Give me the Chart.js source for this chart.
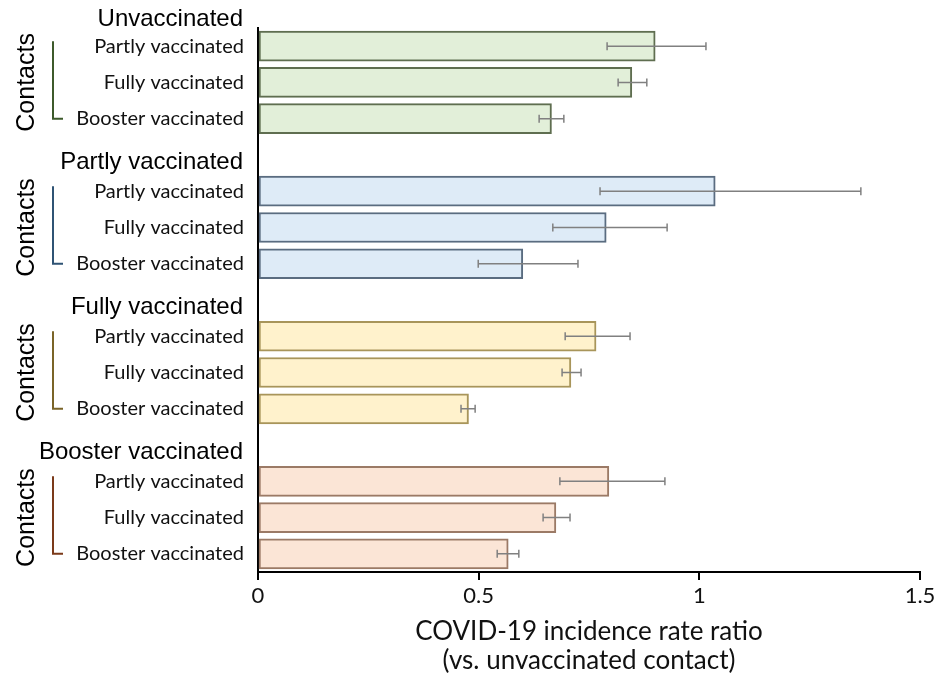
<!DOCTYPE html>
<html>
<head>
<meta charset="utf-8">
<script src="https://cdn.jsdelivr.net/npm/chart.js@4.4.1/dist/chart.umd.min.js"></script>
<style>
  html, body { margin: 0; padding: 0; background: #fff; }
  #wrap { width: 940px; height: 675px; }
</style>
</head>
<body>
<div id="wrap"><canvas id="chart"></canvas></div>
<script>
/* ── Data ─────────────────────────────────────────────────────── */
const groupNames = ["Unvaccinated", "Partly vaccinated", "Fully vaccinated", "Booster vaccinated"];
const contactNames = ["Partly vaccinated", "Fully vaccinated", "Booster vaccinated"];

// incidence rate ratio per index-case group, for partly / fully / booster contacts
const irrUnvaccinated = [0.90, 0.847, 0.665];
const irrPartly       = [1.036, 0.789, 0.600];
const irrFully        = [0.766, 0.709, 0.477];
const irrBooster      = [0.795, 0.675, 0.567];

const lowUnvaccinated = [0.791, 0.816, 0.637];
const lowPartly       = [0.775, 0.668, 0.499];
const lowFully        = [0.696, 0.689, 0.460];
const lowBooster      = [0.684, 0.646, 0.542];

const highUnvaccinated = [1.015, 0.881, 0.693];
const highPartly       = [1.366, 0.927, 0.725];
const highFully        = [0.843, 0.732, 0.492];
const highBooster      = [0.922, 0.707, 0.591];

const xTicks = [0, 0.5, 1, 1.5];

/* ── Palette ──────────────────────────────────────────────────── */
const FILLS   = ["#e2efd9", "#deebf7", "#fff2cc", "#fbe5d6"];
const BORDERS = ["#5f6e50", "#5a6c80", "#a8955a", "#9b7a66"];
const BRACKET = ["#3d5a2b", "#2f5374", "#7a6428", "#7b3a1a"];

/* ── Build rows (header rows for groups 2-4 are empty bars) ──── */
const irr  = [irrUnvaccinated, irrPartly, irrFully, irrBooster];
const low  = [lowUnvaccinated, lowPartly, lowFully, lowBooster];
const high = [highUnvaccinated, highPartly, highFully, highBooster];

const labels = [], values = [], lows = [], highs = [], rowGroup = [], firstRow = [];
groupNames.forEach((g, gi) => {
    if (gi > 0) {
        labels.push(""); values.push(null); lows.push(null); highs.push(null); rowGroup.push(gi);
    }
    firstRow.push(labels.length);
    contactNames.forEach((c, ci) => {
        labels.push(c);
        values.push(irr[gi][ci]);
        lows.push(low[gi][ci]);
        highs.push(high[gi][ci]);
        rowGroup.push(gi);
    });
});

/* ── Error bars ───────────────────────────────────────────────── */
const errorBars = {
    id: "errorBars",
    afterDatasetsDraw(chart) {
        const { ctx, scales: { x } } = chart;
        const meta = chart.getDatasetMeta(0);
        ctx.save();
        ctx.strokeStyle = "#808080";
        ctx.lineWidth = 1.5;
        meta.data.forEach((bar, i) => {
            if (lows[i] == null) return;
            const x1 = x.getPixelForValue(lows[i]);
            const x2 = x.getPixelForValue(highs[i]);
            const y = bar.y;
            ctx.beginPath();
            ctx.moveTo(x1, y); ctx.lineTo(x2, y);
            ctx.moveTo(x1, y - 4); ctx.lineTo(x1, y + 4);
            ctx.moveTo(x2, y - 4); ctx.lineTo(x2, y + 4);
            ctx.stroke();
        });
        ctx.restore();
    }
};

/* ── Group headers, brackets, "Contacts" ──────────────────────── */
const groupLabels = {
    id: "groupLabels",
    afterDraw(chart) {
        const { ctx, scales: { y } } = chart;
        const step = y.getPixelForValue(1) - y.getPixelForValue(0);
        ctx.save();
        groupNames.forEach((g, gi) => {
            const r = firstRow[gi];
            const yTop = y.getPixelForValue(r);
            const yMid = y.getPixelForValue(r + 1);
            const yBot = y.getPixelForValue(r + 2);

            // header
            ctx.fillStyle = "#000";
            ctx.font = "24px 'Liberation Sans', Arial, sans-serif";
            ctx.textAlign = "right";
            ctx.textBaseline = "middle";
            ctx.fillText(g, 243, yTop - step + (gi === 0 ? 10 : 7));

            // bracket
            ctx.strokeStyle = BRACKET[gi];
            ctx.lineWidth = 2;
            ctx.beginPath();
            ctx.moveTo(53, yTop - 5);
            ctx.lineTo(53, yBot);
            ctx.lineTo(63, yBot);
            ctx.stroke();

            // Contacts
            ctx.save();
            ctx.translate(27, yMid);
            ctx.rotate(-Math.PI / 2);
            ctx.textAlign = "center";
            ctx.font = "25px 'Liberation Sans', Arial, sans-serif";
            ctx.fillStyle = "#000";
            ctx.fillText("Contacts", 0, 0);
            ctx.restore();
        });
        ctx.restore();
    }
};

/* ── Chart ────────────────────────────────────────────────────── */
new Chart(document.getElementById("chart"), {
    type: "bar",
    data: {
        labels,
        datasets: [{
            data: values,
            backgroundColor: rowGroup.map(g => FILLS[g]),
            borderColor: rowGroup.map(g => BORDERS[g]),
            borderWidth: 2,
            borderSkipped: false,
            barThickness: 30,
        }]
    },
    options: {
        indexAxis: "y",
        responsive: true,
        maintainAspectRatio: false,
        animation: false,
        layout: { padding: { top: 28, right: 20, left: 0, bottom: 0 } },
        plugins: { legend: { display: false }, tooltip: { enabled: false } },
        scales: {
            x: {
                type: "linear",
                min: 0,
                max: 1.5,
                afterBuildTicks: s => { s.ticks = xTicks.map(v => ({ value: v })); },
                afterFit: s => { s.height = 103; },
                border: { color: "#000", width: 2 },
                grid: { drawOnChartArea: false, drawTicks: true, tickLength: 8, color: "#000", lineWidth: 2 },
                ticks: {
                    padding: 3,
                    color: "#111",
                    font: { family: "Lato, sans-serif", size: 22 },
                    callback: v => String(v),
                },
                title: {
                    display: true,
                    text: ["COVID-19 incidence rate ratio", "(vs. unvaccinated contact)"],
                    color: "#111",
                    font: { family: "Lato, sans-serif", size: 26, lineHeight: 1.12 },
                    padding: { top: 4, bottom: 0 },
                }
            },
            y: {
                type: "category",
                afterFit: s => { s.width = 258; },
                border: { color: "#000", width: 2 },
                grid: { display: false, drawTicks: false },
                ticks: {
                    padding: 14,
                    autoSkip: false,
                    color: "#111",
                    font: { family: "Lato, sans-serif", size: 20 },
                }
            }
        }
    },
    plugins: [errorBars, groupLabels]
});
</script>
</body>
</html>
